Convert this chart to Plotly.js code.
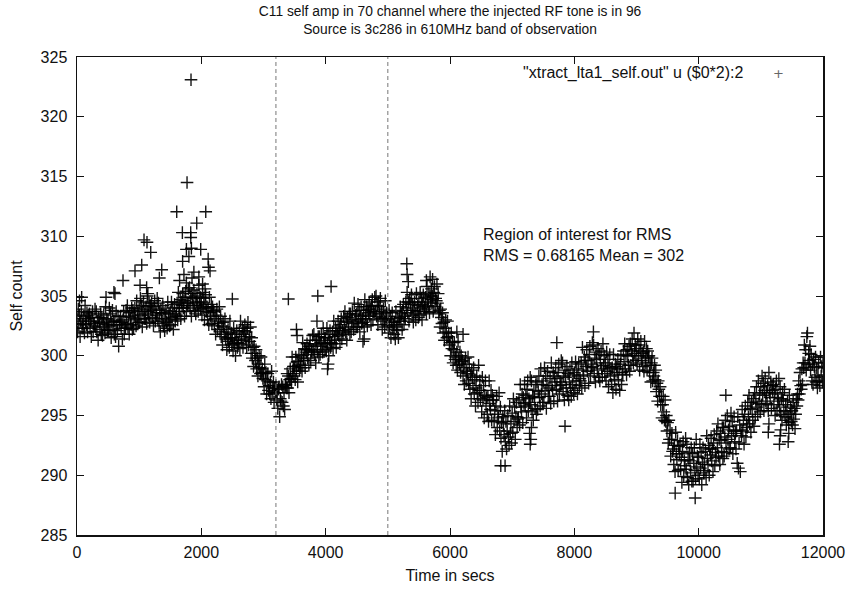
<!DOCTYPE html>
<html>
<head>
<meta charset="utf-8">
<script src="https://cdn.plot.ly/plotly-3.0.1.min.js"></script>
<style>html,body{margin:0;padding:0;background:#fff;}#chart{width:848px;height:589px;}</style>
</head>
<body>
<div id="chart"></div>
<script>
const sampleStep = 10;
// Self count, one value every 10 s from 0 to 12000 s
const selfCount = [
303.1,302.0,303.9,302.6,303.4,301.6,302.9,303.7,302.3,302.7, 302.3,303.3,301.9,304.2,302.9,302.6,303.6,302.0,303.4,303.1,
303.5,302.3,302.9,301.6,303.2,303.7,302.0,302.7,302.5,303.9, 302.4,303.7,302.0,302.9,301.3,303.2,302.8,302.2,303.5,301.8,
303.2,301.7,302.7,303.4,302.4,301.9,304.1,302.6,303.1,302.1, 303.0,302.1,304.0,302.5,303.5,301.5,302.8,303.8,302.2,302.9,
301.8,302.9,301.6,303.7,302.6,302.1,303.3,300.8,302.9,302.6, 303.3,302.3,302.8,301.4,303.0,303.7,301.8,302.6,302.3,303.8,
302.7,304.2,302.4,303.3,301.8,303.6,303.2,302.6,304.0,302.2, 303.8,302.3,303.4,304.0,303.0,302.5,304.6,303.1,303.7,302.8,
303.9,302.8,304.8,303.4,304.2,302.4,303.7,304.5,303.1,303.5, 303.1,304.1,302.7,305.0,303.7,303.4,304.4,302.8,304.2,303.9,
304.4,303.2,303.8,302.5,304.1,304.6,302.9,303.6,303.4,304.8, 303.1,304.4,302.7,303.6,302.0,303.9,303.5,302.9,304.2,302.5,
303.6,302.1,303.1,303.8,302.8,302.3,304.5,303.0,303.5,302.5, 303.7,302.6,304.5,303.2,304.0,302.2,303.5,304.3,302.9,303.3,
303.4,304.4,303.0,305.3,304.0,303.7,304.7,303.1,304.5,304.2, 305.2,304.0,304.6,303.3,304.9,305.4,303.7,304.4,304.2,305.6,
304.4,305.7,304.0,304.9,303.3,305.2,304.8,304.2,305.5,303.8, 305.0,303.5,304.5,305.2,304.2,303.7,305.9,304.4,304.9,303.9,
304.5,303.4,305.3,304.0,304.8,303.0,304.3,305.1,303.7,304.1, 303.0,304.0,302.6,304.9,303.6,303.3,304.3,302.7,304.1,303.8,
303.7,302.5,303.1,301.8,303.4,303.9,302.2,302.9,302.7,304.1, 302.0,303.3,301.6,302.5,300.9,302.8,302.4,301.8,303.1,301.4,
302.0,300.5,301.5,302.2,301.2,300.7,302.9,301.4,301.9,300.9, 301.5,300.4,302.3,301.0,301.8,300.0,301.3,302.1,300.7,301.1,
301.0,302.0,300.6,302.9,301.6,301.3,302.3,300.7,302.1,301.8, 302.6,301.4,302.0,300.7,302.3,302.8,300.9,301.6,301.2,302.4,
300.2,301.5,299.8,300.7,299.1,300.8,300.2,299.6,300.5,298.9, 299.8,298.3,299.3,300.0,299.0,298.5,299.9,298.6,298.9,298.1,
298.5,297.4,299.3,298.0,298.6,296.8,297.9,298.5,297.1,297.5, 296.8,297.8,296.4,298.7,297.3,297.0,297.8,296.1,297.3,296.9,
297.5,296.3,296.9,295.6,297.2,297.4,294.9,296.4,296.2,297.6, 296.1,297.4,295.8,296.9,295.5,297.5,297.6,297.3,298.5,297.3,
298.3,296.9,298.0,298.9,298.1,297.8,299.9,298.5,299.1,298.3, 299.1,298.0,299.9,298.7,299.5,297.8,299.2,300.1,298.8,299.3,
299.0,300.0,298.7,301.1,299.8,299.6,300.6,299.0,300.5,300.3, 301.0,299.8,300.5,299.2,300.8,301.3,299.6,300.4,300.3,301.7,
300.5,301.8,300.1,301.0,299.4,301.3,300.9,300.3,301.6,299.9, 301.6,300.1,301.1,301.8,300.8,300.3,302.3,301.0,301.5,300.5,
301.5,300.4,302.3,301.0,301.8,300.0,301.3,302.1,300.7,301.1, 301.0,302.0,300.6,302.9,301.6,301.3,302.3,300.7,302.1,301.8,
302.9,301.7,302.3,301.0,302.6,303.1,301.4,302.1,301.9,303.3, 302.4,303.7,302.0,302.9,301.3,303.2,302.8,302.2,303.5,301.8,
303.5,302.0,303.0,303.7,302.7,302.2,304.4,302.9,303.4,302.4, 303.5,302.4,304.3,303.0,303.8,302.0,303.3,304.1,302.7,303.1,
302.8,303.8,302.4,304.7,303.4,303.1,304.1,302.5,303.9,303.6, 304.5,303.3,303.9,302.6,304.2,304.7,303.0,303.7,303.5,304.9,
303.7,305.0,303.3,304.2,302.6,304.5,304.1,303.5,304.8,303.1, 303.7,302.2,303.2,303.9,302.9,302.4,304.6,303.1,303.6,302.6,
303.0,301.9,303.8,302.5,303.3,301.5,302.8,303.6,302.2,302.6, 301.8,302.8,301.4,303.7,302.4,302.1,303.1,301.5,302.9,303.2,
304.1,302.9,303.5,302.2,303.8,304.3,302.6,303.3,303.1,304.5, 304.0,305.3,303.6,304.5,302.9,304.8,304.4,303.8,305.1,303.4,
304.3,302.8,303.8,304.5,303.5,303.0,305.2,303.7,304.2,303.2, 304.5,303.4,305.3,304.0,304.8,303.0,304.3,305.1,303.7,304.1,
303.9,304.9,303.5,305.8,304.5,304.2,305.2,303.6,305.0,304.7, 305.6,304.4,305.0,303.7,305.3,305.8,304.1,304.8,304.6,306.0,
304.4,305.2,303.5,303.8,302.4,303.9,303.2,302.7,303.6,301.9, 302.8,301.3,302.3,303.0,302.0,301.5,302.9,301.6,301.9,300.9,
301.1,300.0,301.9,300.6,301.2,299.4,300.5,301.1,299.7,299.9, 299.2,300.3,298.8,301.2,299.7,299.3,300.3,298.6,300.0,299.5,
299.6,298.3,299.0,297.6,299.3,299.8,297.9,298.7,298.5,299.9, 297.7,299.3,297.2,298.4,296.4,298.8,298.2,297.5,299.0,296.8,
298.0,295.8,297.3,298.3,296.9,296.1,299.2,297.1,297.9,296.4, 297.1,295.3,298.2,296.3,297.5,294.8,296.7,297.9,295.8,296.5,
295.1,296.6,294.5,297.9,296.0,295.5,297.1,294.6,296.7,296.3, 296.3,294.5,295.4,293.4,295.8,296.6,294.0,295.1,294.8,296.9,
293.7,295.7,293.1,294.4,292.0,294.9,294.3,293.4,295.4,292.8, 294.5,292.2,293.7,295.0,293.2,292.5,295.8,293.5,294.3,292.7,
295.2,293.6,296.4,294.5,295.7,293.0,294.9,296.1,294.0,294.7, 294.8,296.3,294.2,297.6,295.7,295.3,296.8,294.4,296.5,296.0,
297.6,295.8,296.7,294.8,297.2,297.9,295.4,296.4,296.1,298.2, 295.9,297.9,295.3,296.6,294.6,297.1,296.5,295.6,297.6,295.1,
297.8,295.5,297.0,298.3,296.5,295.8,298.9,296.8,297.6,296.1, 297.9,296.1,299.0,297.1,298.3,295.6,297.5,298.7,296.6,297.3,
296.6,298.1,296.0,299.4,297.5,297.1,298.6,296.2,298.3,297.8, 299.0,297.2,298.1,296.2,298.6,299.3,296.8,297.8,297.5,299.6,
297.6,299.4,297.0,298.3,296.3,298.8,298.2,297.3,299.1,296.7, 298.5,296.3,297.8,298.8,297.3,296.6,299.4,297.6,298.4,296.9,
298.6,297.1,299.5,297.9,298.9,296.8,298.3,299.3,297.5,298.1, 297.9,299.4,297.3,300.7,298.8,298.4,299.9,297.5,299.6,299.1,
300.5,298.7,299.6,297.7,300.1,300.8,298.3,299.3,299.0,301.1, 299.1,300.9,298.5,299.8,297.8,300.3,299.7,298.8,300.6,298.2,
300.1,297.9,299.4,300.4,298.9,298.2,301.0,299.2,300.0,298.5, 299.4,297.9,300.3,298.7,299.7,297.4,299.1,300.1,298.3,298.9,
297.6,299.0,296.9,300.1,298.4,298.0,299.3,297.2,299.1,298.6, 299.7,297.9,298.9,297.1,299.3,300.0,297.6,298.6,298.4,300.4,
299.5,301.0,298.9,300.1,298.4,300.5,300.0,299.2,300.8,298.7, 301.0,299.2,300.4,301.4,300.0,299.4,301.9,300.2,300.9,299.6,
300.6,299.3,301.4,300.0,300.9,298.8,300.4,301.2,299.6,300.2, 299.1,300.3,298.7,301.2,299.8,299.4,300.6,298.8,300.4,299.9,
300.0,298.6,299.2,297.8,299.4,299.8,297.9,298.6,298.3,299.2, 298.0,298.8,297.0,297.7,296.2,297.9,297.2,296.6,297.4,295.9,
296.6,294.8,295.9,296.6,295.3,294.6,296.3,294.5,295.0,293.7, 294.4,292.7,294.6,293.0,293.8,291.6,293.0,293.5,292.0,292.2,
290.9,292.5,290.3,293.6,291.8,291.3,292.9,290.4,292.4,291.8, 292.5,290.5,291.5,289.4,292.0,292.8,289.9,291.2,290.8,293.1,
290.5,292.6,289.8,291.3,289.2,291.9,291.2,290.2,292.3,289.5, 291.8,289.5,291.0,292.3,290.4,289.7,293.0,290.7,291.6,290.0,
291.5,289.7,292.6,290.6,291.9,289.2,291.1,292.3,290.2,290.9, 290.4,292.0,289.8,293.3,291.4,290.9,292.5,290.0,292.2,291.7,
293.1,291.2,292.2,290.3,292.7,293.4,290.8,291.9,291.5,293.7, 292.3,294.3,291.6,293.0,290.9,293.5,292.9,292.0,294.0,291.4,
294.0,291.6,293.2,294.6,292.7,291.9,295.0,293.0,293.8,292.2, 294.1,292.3,295.2,293.3,294.5,291.8,293.7,294.9,292.8,293.5,
292.2,293.7,291.0,294.9,290.6,292.7,294.2,290.3,293.8,293.3, 295.5,293.7,294.6,292.6,295.1,295.8,293.2,294.3,294.0,296.1,
294.9,296.7,294.3,295.6,293.6,296.1,295.5,294.6,296.4,294.1, 296.9,294.9,296.2,297.4,295.7,295.1,297.9,296.0,296.8,295.3,
297.4,295.9,298.3,296.7,297.7,295.4,297.1,298.1,296.2,296.9, 296.0,297.5,295.4,298.6,296.9,296.5,297.8,295.6,297.5,297.1,
297.6,295.9,296.8,295.0,297.2,297.9,295.4,296.5,296.2,298.1, 295.7,297.4,295.1,296.4,294.6,296.9,296.3,295.4,297.2,294.9,
295.9,294.2,295.3,296.2,294.8,294.4,296.7,295.1,295.7,294.5, 295.4,294.2,296.1,294.7,295.6,293.9,295.1,296.4,295.8,296.8,
296.3,297.9,296.8,298.6,297.5,297.2,298.9,297.6,299.4,299.0, 300.9,299.4,300.5,298.8,301.6,301.9,299.3,300.2,299.6,300.8,
298.8,300.1,297.9,299.3,297.6,299.7,299.1,298.2,299.9,297.8, 299.0,297.3,298.4,299.4,297.9,297.5,299.9,298.3,299.1,297.8,
299.4
];
// Isolated points lying away from the main band
const outlierTime = [40,75,467,594,611,740,933,1014,1041,1078,1120,1126,1140,1186,1325,1363,1604,1650,1695,1699,1720,1760,1760,1770,1800,1829,1830,1834,1840,1850,1880,1926,1960,1990,2020,2060,2071,2110,2115,2140,2499,3400,3530,3540,3860,3873,4030,4040,4087,4600,4620,5305,5310,5330,5620,5680,5720,6110,6210,6817,6886,7280,7290,7300,7310,7718,7850,8307,9622,9944,10437,11120,11130,11300,11310,11320,11440,11450];
const outlierCount = [304.6,304.9,304.9,305.3,305.2,306.3,307.1,305.9,307.6,309.7,305.7,309.5,305.2,308.65,306.5,307.2,312.05,306.3,310.3,307.9,306.8,308.9,306.1,314.5,308.3,310.3,309.9,323.1,309.0,306.5,307.0,311.1,306.6,308.9,306.0,305.6,312.05,308.1,307.4,307.1,304.75,304.75,302.2,301.7,302.9,305.0,298.9,299.3,305.8,301.2,301.4,307.7,306.8,306.2,306.3,306.6,306.4,302.0,301.8,290.8,290.8,293.5,292.6,293.0,294.0,301.1,294.1,302.0,288.5,288.1,296.7,293.6,294.3,292.6,293.3,293.8,292.8,293.5];
// Boundaries of the RMS region of interest (s)
const roiBounds = [3200, 5000];
const seriesName = '"xtract_lta1_self.out" u ($0*2):2';
const titleLines = ['C11 self amp in 70 channel where the injected RF tone is in 96', 'Source is 3c286 in 610MHz band of observation'];
const roiText = ['Region of interest for RMS', 'RMS = 0.68165 Mean = 302'];
const xTitle = 'Time in secs';
const yTitle = 'Self count';

const times = selfCount.map((_, i) => i * sampleStep);
const xs = times.concat(outlierTime);
const ys = selfCount.concat(outlierCount);

const FONT = 'Liberation Sans, Arial, Helvetica, sans-serif';
const ink = '#111';

const trace = {
  type: 'scatter', mode: 'markers', x: xs, y: ys, name: seriesName,
  showlegend: false, hoverinfo: 'skip',
  marker: {symbol: 'cross-thin', size: 9, color: '#000', line: {color: 'rgba(0,0,0,0.92)', width: 1.4}}
};

const shapes = roiBounds.map(b => ({
  type: 'line', xref: 'x', yref: 'paper', x0: b, x1: b, y0: 0, y1: 1,
  line: {color: '#777', width: 1, dash: '4px,3px'}
}));

const layout = {
  width: 848, height: 589,
  margin: {l: 77, r: 25, t: 57, b: 54},
  paper_bgcolor: '#fff', plot_bgcolor: '#fff',
  font: {family: FONT, size: 16, color: ink},
  title: {text: titleLines.join('<br>'), x: 0.5307, xanchor: 'center', y: 0.973, yanchor: 'top', yref: 'container',
          font: {family: FONT, size: 13.8, color: ink}},
  xaxis: {range: [0, 12000], dtick: 2000, tick0: 0, tickformat: 'd', ticks: 'inside', ticklen: 7, tickwidth: 1, tickcolor: ink,
          showline: true, linecolor: ink, linewidth: 1.5, mirror: 'ticks', showgrid: false, zeroline: false,
          ticklabelstandoff: 2,
          tickfont: {family: FONT, size: 16, color: ink},
          title: {text: xTitle, standoff: 10, font: {family: FONT, size: 16, color: ink}}},
  yaxis: {range: [285, 325], dtick: 5, tick0: 285, ticks: 'inside', ticklen: 7, tickwidth: 1, tickcolor: ink,
          showline: true, linecolor: ink, linewidth: 1.5, mirror: 'ticks', showgrid: false, zeroline: false,
          ticklabelstandoff: 5,
          tickfont: {family: FONT, size: 16, color: ink},
          title: {text: yTitle, standoff: 14, font: {family: FONT, size: 16, color: ink}}},
  shapes: shapes,
  annotations: [
    {xref: 'paper', yref: 'paper', x: 0.8954, y: 0.9665, xanchor: 'right', yanchor: 'middle', showarrow: false,
     text: seriesName, font: {family: FONT, size: 16, color: ink}},
    {xref: 'paper', yref: 'paper', x: 0.9397, y: 0.9665, xanchor: 'center', yanchor: 'middle', showarrow: false,
     text: '+', font: {family: 'DejaVu Sans', size: 13, color: '#666'}},
    {xref: 'paper', yref: 'paper', x: 0.5415, y: 0.6077, xanchor: 'left', yanchor: 'middle', align: 'left', showarrow: false,
     text: roiText.join('<br>'), font: {family: FONT, size: 16, color: ink}}
  ],
  showlegend: false
};

Plotly.newPlot('chart', [trace], layout, {displayModeBar: false, staticPlot: true});
</script>
</body>
</html>
